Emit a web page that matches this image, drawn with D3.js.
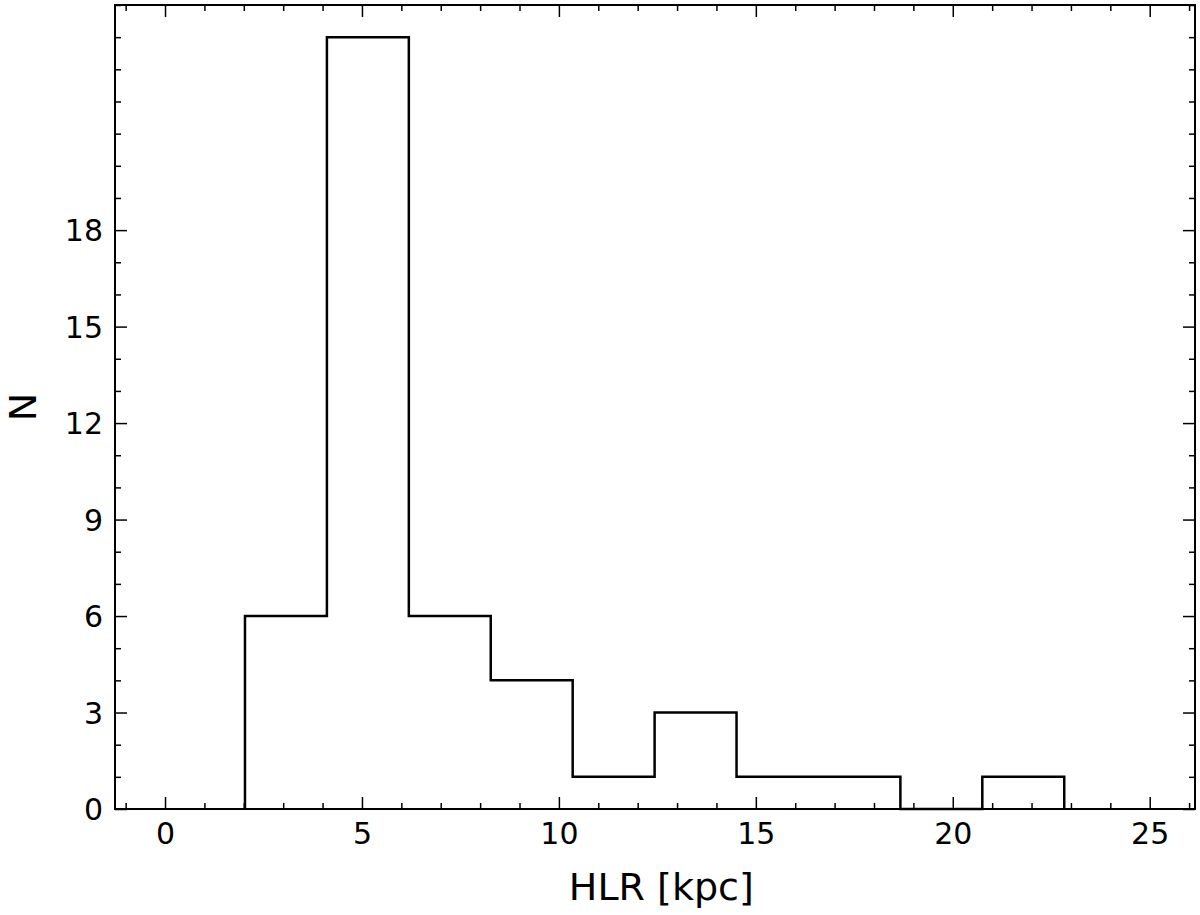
<!DOCTYPE html>
<html><head><meta charset="utf-8">
<script src="https://cdn.jsdelivr.net/npm/d3@7"></script>
<style>body{margin:0;background:#fff}</style></head>
<body><svg width="1200" height="915"></svg>
<script>
const binEdges = [2.03, 4.11, 6.19, 8.27, 10.35, 12.43, 14.51, 16.59, 18.67, 20.75, 22.83];
const counts = [6, 24, 6, 4, 1, 3, 1, 1, 0, 1];
const xTicks = [0, 5, 10, 15, 20, 25];
const yTicks = [0, 3, 6, 9, 12, 15, 18];

const svg = d3.select("svg");
const margin = { top: 5, right: 5, bottom: 106, left: 115 };
const width = 1200, height = 915;
const innerWidth = width - margin.left - margin.right;
const innerHeight = height - margin.top - margin.bottom;
const g = svg.append("g").attr("transform", `translate(${margin.left},${margin.top})`);

const x = d3.scaleLinear().domain([-1.27, 26.15]).range([0, innerWidth]);
const y = d3.scaleLinear().domain([0, 25.0]).range([innerHeight, 0]);

const font = "DejaVu Sans, sans-serif";

// step outline
const pts = [[binEdges[0], 0]];
counts.forEach((c, i) => { pts.push([binEdges[i], c]); pts.push([binEdges[i + 1], c]); });
pts.push([binEdges[binEdges.length - 1], 0]);
g.append("path")
    .attr("d", d3.line().x(d => x(d[0])).y(d => y(d[1]))(pts))
    .attr("fill", "none").attr("stroke", "#000").attr("stroke-width", 2.5);

function ticks(axisFn, scale, vals, size, transform, labels, dy) {
    const a = g.append("g").attr("transform", transform)
        .call(axisFn(scale).tickValues(vals).tickSize(-size).tickPadding(12));
    a.select(".domain").remove();
    a.selectAll("line").attr("stroke", "#000").attr("stroke-width", 1.5);
    if (labels) {
        a.selectAll("text").attr("font-family", font).attr("font-size", 30)
            .attr("fill", "#000").attr("dy", dy);
    } else {
        a.selectAll("text").remove();
    }
}
const xMinor = d3.range(-1, 27, 1).filter(v => v % 5 !== 0);
const yMinor = d3.range(0, 26, 1).filter(v => v % 3 !== 0);
ticks(d3.axisBottom, x, xTicks, 12, `translate(0,${innerHeight})`, true, "0.75em");
ticks(d3.axisBottom, x, xMinor, 6, `translate(0,${innerHeight})`, false);
ticks(d3.axisTop, x, xTicks, 12, `translate(0,0)`, false);
ticks(d3.axisTop, x, xMinor, 6, `translate(0,0)`, false);
ticks(d3.axisLeft, y, yTicks, 12, `translate(0,0)`, true, "0.35em");
ticks(d3.axisLeft, y, yMinor.concat([21, 24]), 6, `translate(0,0)`, false);
ticks(d3.axisRight, y, yTicks, 12, `translate(${innerWidth},0)`, false);
ticks(d3.axisRight, y, yMinor.concat([21, 24]), 6, `translate(${innerWidth},0)`, false);

g.append("rect").attr("width", innerWidth).attr("height", innerHeight)
    .attr("fill", "none").attr("stroke", "#000").attr("stroke-width", 2);

svg.append("text").attr("x", margin.left + x(12.6)).attr("y", 900)
    .attr("text-anchor", "middle").attr("font-family", font).attr("font-size", 38).text("HLR [kpc]");
svg.append("text").attr("transform", `translate(36,${margin.top + innerHeight / 2}) rotate(-90)`)
    .attr("text-anchor", "middle").attr("font-family", font).attr("font-size", 38).text("N");
</script></body></html>
